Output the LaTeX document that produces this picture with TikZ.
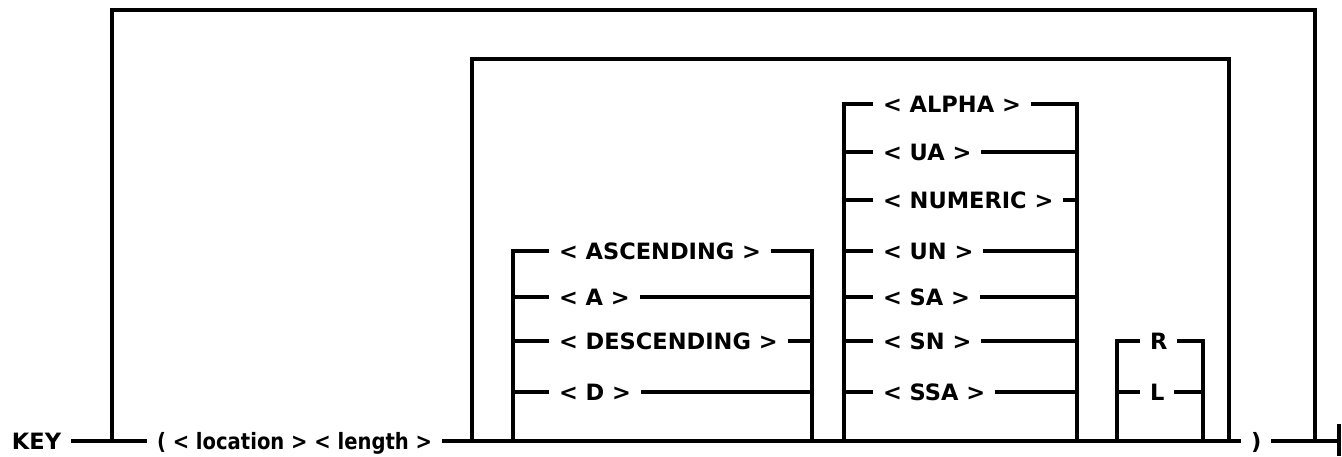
\documentclass[tikz,border=0pt]{standalone}
\usepackage{fontspec}
\setmainfont{DejaVu Sans}
\newfontfamily\rrnarrow[FakeStretch=0.87]{DejaVu Sans}
\usepackage{tikz}
\usetikzlibrary{positioning,calc}
\tikzset{
  rrline/.style={line width=3.2pt, line join=miter},
  rrtext/.style={font=\bfseries\fontsize{22.5}{27}\selectfont, anchor=west,
    inner sep=0pt, outer sep=10pt, text height=16.4pt, text depth=0pt},
}

\begin{document}
\begin{tikzpicture}[x=1pt, y=-1pt]
  \useasboundingbox (0,0) rectangle (1342,456);

  % main line
  \node[rrtext] (key) at (2,441) {KEY};
  \node[rrtext, font=\rrnarrow\bfseries\fontsize{22.5}{27}\selectfont]
    (loc) at (147,441) {( < location > < length >};
  \node[rrtext] (close) at (1241,441) {)};
  \coordinate (mainend) at (1339,441);

  % loops and brackets
  \coordinate (outl) at (112,441);
  \coordinate (outr) at (1315,441);
  \coordinate (inl) at (472,441);
  \coordinate (inr) at (1229,441);
  \coordinate (ordl) at (513,441);
  \coordinate (ordr) at (812,441);
  \coordinate (typl) at (844,441);
  \coordinate (typr) at (1077,441);
  \coordinate (justl) at (1117,441);
  \coordinate (justr) at (1203,441);

  % sort order
  \node[rrtext] (asc) at (549,251) {< ASCENDING >};
  \node[rrtext] (ascs) at (549,297) {< A >};
  \node[rrtext] (desc) at (549,341) {< DESCENDING >};
  \node[rrtext] (descs) at (549,392) {< D >};

  % key type
  \node[rrtext] (alpha) at (873,104) {< ALPHA >};
  \node[rrtext] (ua) at (873,152) {< UA >};
  \node[rrtext] (numeric) at (873,200) {< NUMERIC >};
  \node[rrtext] (un) at (873,251) {< UN >};
  \node[rrtext] (sa) at (873,297) {< SA >};
  \node[rrtext] (sn) at (873,341) {< SN >};
  \node[rrtext] (ssa) at (873,392) {< SSA >};

  % justification
  \node[rrtext] (right) at (1140,341) {R};
  \node[rrtext] (left) at (1140,392) {L};

  \draw[rrline] (key.east) -- (loc.west);
  \draw[rrline] (loc.east) -- (close.west);
  \draw[rrline] (close.east) -- (mainend);
  \draw[rrline] (mainend |- 0,424) -- (mainend |- 0,456);

  \draw[rrline] (outl) -- (outl |- 0,10) -| (outr);
  \draw[rrline] (inl) -- (inl |- 0,59) -| (inr);

  \draw[rrline] (ordl) |- (asc.west);
  \draw[rrline] (asc.east) -| (ordr);
  \foreach \row in {ascs,desc,descs}{
    \draw[rrline] (ordl |- \row.west) -- (\row.west);
    \draw[rrline] (\row.east) -- (ordr |- \row.east);
  }

  \draw[rrline] (typl) |- (alpha.west);
  \draw[rrline] (alpha.east) -| (typr);
  \foreach \row in {ua,numeric,un,sa,sn,ssa}{
    \draw[rrline] (typl |- \row.west) -- (\row.west);
    \draw[rrline] (\row.east) -- (typr |- \row.east);
  }

  \draw[rrline] (justl) |- (right.west);
  \draw[rrline] (right.east) -| (justr);
  \draw[rrline] (justl |- left.west) -- (left.west);
  \draw[rrline] (left.east) -- (justr |- left.east);
\end{tikzpicture}
\end{document}
